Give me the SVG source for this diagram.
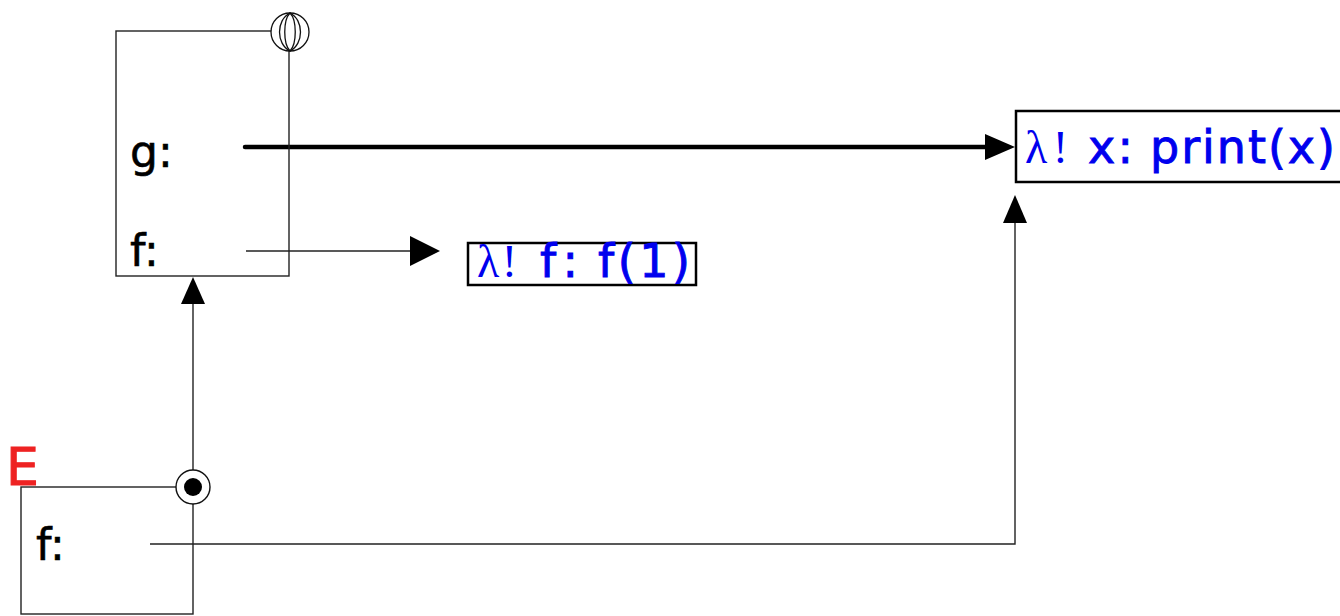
<svg xmlns="http://www.w3.org/2000/svg" width="1340" height="616" viewBox="0 0 1340 616">
<style>
.frame{fill:none;stroke:#222;stroke-width:1.4}
.thin{fill:none;stroke:#222;stroke-width:1.4}
.thick{fill:none;stroke:#000;stroke-width:4.5;stroke-linecap:round}
.head{fill:#000}
.lbl{font-family:"DejaVu Sans","Open Sans",sans-serif;font-size:44px;fill:#000;stroke:#000;stroke-width:0.6}
.val{font-family:"DejaVu Sans","Open Sans",sans-serif;font-size:46px;fill:#0000ee;stroke:#0000ee;stroke-width:0.9}
.lam{font-family:"Liberation Serif","DejaVu Serif",serif;stroke-width:0}
.vbox{fill:#fff;stroke:#000;stroke-width:2.5}
</style>
<g id="connectors">
<line class="thick" x1="245" y1="147" x2="988" y2="147"/>
<polygon class="head" points="985,134 1015,147 985,160"/>
<line class="thin" x1="246" y1="251" x2="412" y2="251"/>
<polygon class="head" points="410,236 440,251 410,266"/>
<line class="thin" x1="193" y1="300" x2="193" y2="470"/>
<polygon class="head" points="181,304 193,277 205,304"/>
<polyline class="thin" points="150,544 1015,544 1015,220"/>
<polygon class="head" points="1003,223 1015,195 1027,223"/>
</g>
<g id="frame-global">
<rect class="frame" x="116" y="31" width="173" height="245"/>
<text class="lbl" x="130" y="167">g:</text>
<text class="lbl" x="130" y="266">f:</text>
<g id="globe" fill="none" stroke="#111" stroke-width="1.3">
<circle cx="290" cy="32" r="19" fill="#fff"/>
<path d="M290,13 C276,20 276,44 290,51 C304,44 304,20 290,13 Z"/>
<path d="M290,13 C283,20 283,44 290,51 C297,44 297,20 290,13 Z"/>
</g>
</g>
<g id="frame-E">
<rect class="frame" x="21" y="487" width="172" height="127"/>
<text x="6" y="485" font-family="DejaVu Sans,sans-serif" font-size="52" fill="#ee2222" stroke="#ee2222" stroke-width="1">E</text>
<text class="lbl" x="36" y="560">f:</text>
<circle cx="193" cy="487" r="17" fill="#fff" stroke="#111" stroke-width="1.4"/>
<circle cx="193" cy="487" r="9" fill="#000"/>
</g>
<g id="lambda-f">
<rect class="vbox" x="468" y="243" width="228" height="42"/>
<text class="val" y="277"><tspan class="lam" x="477" textLength="40">λ!</tspan><tspan x="540" textLength="38">f:</tspan><tspan x="598" textLength="92">f(1)</tspan></text>
</g>
<g id="lambda-print">
<rect class="vbox" x="1016" y="111" width="340" height="71"/>
<text class="val" y="163"><tspan class="lam" x="1025" textLength="43">λ!</tspan><tspan x="1088" textLength="45">x:</tspan><tspan x="1150" textLength="185">print(x)</tspan></text>
</g>
</svg>
